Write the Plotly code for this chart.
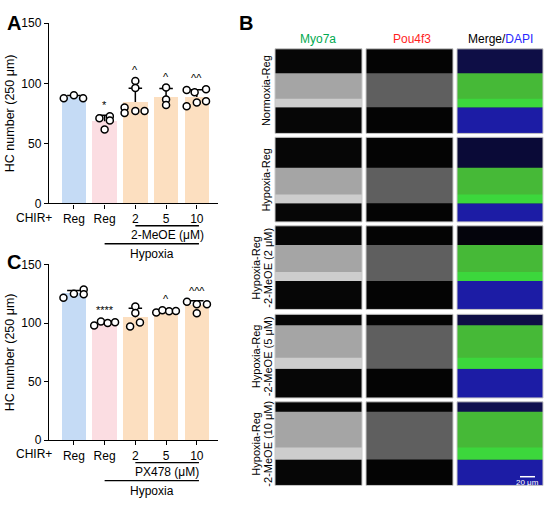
import numpy as np
import plotly.graph_objects as go

W, H = 550, 509
FONT = "Liberation Sans, Arial, sans-serif"

# ---------------- data ----------------
categories = ["Reg", "Reg", "2", "5", "10"]
bar_colors = ["rgb(197,219,245)", "rgb(251,221,226)", "rgb(252,223,192)",
              "rgb(252,223,192)", "rgb(252,223,192)"]

a_reg_normoxia = [87.5, 90.0, 87.5]
a_reg_hypoxia = [71.0, 72.5, 69.0, 61.5]
a_meoe_2 = [102.0, 96.0, 79.8, 75.2, 77.0, 77.0]
a_meoe_5 = [96.5, 86.5, 82.0]
a_meoe_10 = [94.5, 92.5, 95.0, 81.0, 84.0, 85.0]
a_marks = ["", "*", "^", "^", "^^"]

c_reg_normoxia = [121.5, 125.0, 128.5, 124.5]
c_reg_hypoxia = [97.8, 101.4, 100.0, 100.6]
c_px_2 = [114.0, 108.5, 97.0, 100.5]
c_px_5 = [109.0, 111.0, 110.0, 110.3]
c_px_10 = [118.2, 116.0, 116.0, 108.4]
c_marks = ["", "****", "", "^", "^^^"]

y_ticks = [0, 50, 100, 150]
row_labels = [["Normoxia-Reg"], ["Hypoxia-Reg"],
              ["Hypoxia-Reg", "-2-MeOE (2 μM)"],
              ["Hypoxia-Reg", "-2-MeOE (5 μM)"],
              ["Hypoxia-Reg", "-2-MeOE (10 μM)"]]

# layout-only: horizontal scatter of dots (category units)
a_jitter = [[-0.33, 0.0, 0.3], [-0.17, 0.17, 0.17, 0.0],
            [0.0, 0.0, -0.35, -0.35, 0.0, 0.3], [0.0, 0.0, 0.0],
            [-0.33, -0.07, 0.3, -0.33, 0.0, 0.3]]
c_jitter = [[-0.34, 0.0, 0.32, 0.32], [-0.34, -0.12, 0.1, 0.34],
            [0.0, 0.0, -0.17, 0.15], [-0.32, -0.12, 0.1, 0.32],
            [-0.32, 0.0, 0.33, 0.0]]

a_groups = [a_reg_normoxia, a_reg_hypoxia, a_meoe_2, a_meoe_5, a_meoe_10]
c_groups = [c_reg_normoxia, c_reg_hypoxia, c_px_2, c_px_5, c_px_10]

A_TOP, A_ZERO = 16.7, 202.0
C_TOP, C_ZERO = 264.7, 445.5


def px(x, y):
    return x / W, 1 - y / H


fig = go.Figure()


def add_panel(groups, jitter, marks, xa, ya):
    xs = list(range(len(groups)))
    means = [float(np.mean(g)) for g in groups]
    sds = [float(np.std(g, ddof=1)) for g in groups]
    fig.add_trace(go.Bar(x=xs, y=means, marker=dict(color=bar_colors, line=dict(width=0)),
                         width=0.8, xaxis=xa, yaxis=ya, showlegend=False, hoverinfo="skip"))
    ex, ey = [], []
    for i, (m, s) in enumerate(zip(means, sds)):
        ex += [i, i, None, i - 0.22, i + 0.22, None]
        ey += [m, m + s, None, m + s, m + s, None]
    fig.add_trace(go.Scatter(x=ex, y=ey, mode="lines", line=dict(color="black", width=1.5),
                             xaxis=xa, yaxis=ya, showlegend=False, hoverinfo="skip"))
    px_, py_ = [], []
    for i, g in enumerate(groups):
        for v, j in zip(g, jitter[i]):
            px_.append(i + j)
            py_.append(v)
    fig.add_trace(go.Scatter(x=px_, y=py_, mode="markers",
                             marker=dict(symbol="circle", size=7, color="white",
                                         line=dict(color="black", width=1.5)),
                             xaxis=xa, yaxis=ya, showlegend=False, hoverinfo="skip"))
    for i, (g, mk) in enumerate(zip(groups, marks)):
        if mk:
            fig.add_annotation(x=i, y=max(g) + 2.5, text=mk, showarrow=False,
                               xref=xa, yref=ya, yanchor="bottom",
                               font=dict(size=11, color="black", family=FONT))


add_panel(a_groups, a_jitter, a_marks, "x", "y")
add_panel(c_groups, c_jitter, c_marks, "x2", "y2")

x_dom = [49 / W, 218 / W]
axis_common = dict(showline=True, linecolor="black", linewidth=1.4, ticks="outside",
                   ticklen=4, tickwidth=1.4, tickcolor="black", showgrid=False,
                   zeroline=False, tickfont=dict(size=12, color="black", family=FONT))
title_font = dict(size=12.5, family=FONT, color="black")
fig.update_layout(
    width=W, height=H, margin=dict(l=0, r=0, t=0, b=0),
    paper_bgcolor="white", plot_bgcolor="white", bargap=0,
    font=dict(family=FONT, color="black"),
    xaxis=dict(domain=x_dom, range=[-0.81, 4.69], tickvals=list(range(5)),
               ticktext=categories, anchor="y", **axis_common),
    yaxis=dict(domain=[1 - A_ZERO / H, 1 - A_TOP / H], range=[0, 150], tickvals=y_ticks,
               anchor="x", title=dict(text="HC number (250 μm)", standoff=3, font=title_font),
               **axis_common),
    xaxis2=dict(domain=x_dom, range=[-0.81, 4.69], tickvals=list(range(5)),
                ticktext=categories, anchor="y2", **axis_common),
    yaxis2=dict(domain=[1 - C_ZERO / H, 1 - C_TOP / H], range=[0, 150], tickvals=y_ticks,
                anchor="x2", title=dict(text="HC number (250 μm)", standoff=3, font=title_font),
                **axis_common),
)

shapes = []
annos = []


def text(x, y, t, size=12, color="black", angle=0, bold=False, xanchor="center"):
    xp, yp = px(x, y)
    if bold:
        t = "<b>" + t + "</b>"
    annos.append(dict(x=xp, y=yp, xref="paper", yref="paper", text=t, showarrow=False,
                      textangle=angle, xanchor=xanchor, yanchor="middle",
                      font=dict(size=size, color=color, family=FONT)))


# group labels under x axes
for base, lab, xr in [(A_ZERO, "2-MeOE (μM)", "x"), (C_ZERO, "PX478 (μM)", "x2")]:
    text(34, base + 14.5, "CHIR+")
    y1 = base + 23
    y2 = base + 41.5
    shapes.append(dict(type="line", xref=xr, yref="paper", x0=2, x1=4.07,
                       y0=1 - y1 / H, y1=1 - y1 / H, line=dict(color="black", width=1.4)))
    shapes.append(dict(type="line", xref=xr, yref="paper", x0=1, x1=4.07,
                       y0=1 - y2 / H, y1=1 - y2 / H, line=dict(color="black", width=1.4)))
    text(167, base + 32.5, lab)
    text(152, base + 52, "Hypoxia")

# panel letters
text(14, 16, "A", size=20, bold=True)
text(14, 262, "C", size=20, bold=True)
text(246, 16, "B", size=20, bold=True)

# ---------------- panel B (schematic image tiles) ----------------
cols = [(275, 362), (366, 453), (457, 543)]
rows = [(43, 130), (134, 221), (225, 311), (316, 402), (406, 492)]
bands = [(0.29, 0.69), (0.36, 0.78), (0.23, 0.66), (0.13, 0.65), (0.12, 0.69)]
merge_top = ["rgb(14,14,70)", "rgb(10,10,55)", "rgb(4,4,12)", "rgb(14,14,70)", "rgb(16,16,80)"]

text(318, 33, "Myo7a", color="rgb(0,170,80)")
text(412, 33, "Pou4f3", color="rgb(255,30,30)")
text(500, 33, "Merge/<span style='color:rgb(40,40,255)'>DAPI</span>")


def rect(x0, y0, x1, y1, fill, line=None):
    a0, b0 = px(x0, y0)
    a1, b1 = px(x1, y1)
    shapes.append(dict(type="rect", xref="paper", yref="paper", x0=a0, y0=b1, x1=a1, y1=b0,
                       fillcolor=fill, line=dict(width=0) if line is None else line,
                       layer="above"))


for r, (ry0, ry1) in enumerate(rows):
    hgt = ry1 - ry0
    bt, bb = ry0 + bands[r][0] * hgt, ry0 + bands[r][1] * hgt
    # Myo7a
    x0, x1 = cols[0]
    rect(x0, ry0, x1, ry1, "rgb(6,6,6)")
    rect(x0, bt, x1, bb, "rgb(165,165,165)")
    rect(x0, bb - 0.25 * (bb - bt), x1, bb, "rgb(205,205,205)")
    # Pou4f3
    x0, x1 = cols[1]
    rect(x0, ry0, x1, ry1, "rgb(4,4,4)")
    rect(x0, bt, x1, bb, "rgb(95,95,95)")
    # Merge
    x0, x1 = cols[2]
    rect(x0, ry0, x1, ry1, merge_top[r])
    rect(x0, bb, x1, ry1, "rgb(28,28,165)")
    rect(x0, bt, x1, bb, "rgb(70,185,55)")
    rect(x0, bb - 0.25 * (bb - bt), x1, bb, "rgb(60,215,60)")
    for (cx0, cx1) in cols:
        rect(cx0, ry0, cx1, ry1, "rgba(0,0,0,0)", line=dict(color="rgb(200,200,200)", width=1))
    # row labels
    cy = (ry0 + ry1) / 2
    lab = row_labels[r]
    if len(lab) == 1:
        text(266, cy, lab[0], size=11, angle=-90)
    else:
        text(256, cy, lab[0], size=11, angle=-90)
        text(268, cy, lab[1], size=11, angle=-90)

# scale bar
a0, b0 = px(520, 483)
a1, _ = px(535, 483)
shapes.append(dict(type="line", xref="paper", yref="paper", x0=a0, x1=a1, y0=b0, y1=b0,
                   line=dict(color="white", width=1.5), layer="above"))
text(527.5, 488.5, "20 μm", size=8, color="white")

fig.update_layout(shapes=shapes, annotations=list(fig.layout.annotations) + annos)
fig.write_html("out.html", config={"displayModeBar": False},
               post_script="document.body.style.margin='0';document.body.style.padding='0';")
